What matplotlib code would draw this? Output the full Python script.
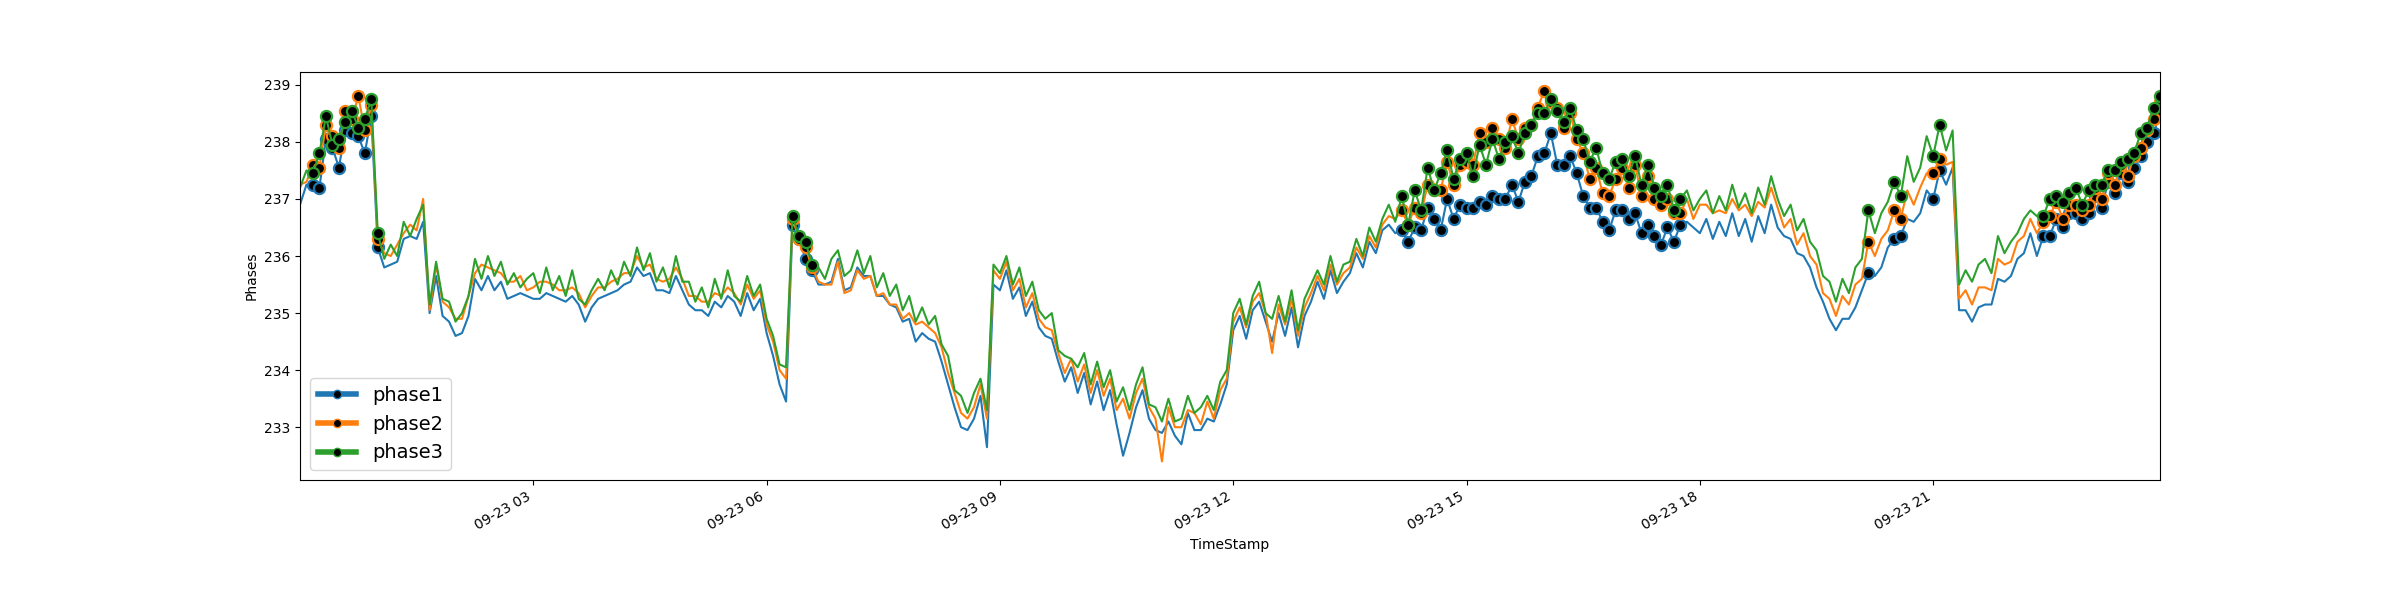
import numpy as np
import pandas as pd
import matplotlib
matplotlib.use("Agg")
import matplotlib.pyplot as plt
import matplotlib.dates as mdates
from matplotlib.lines import Line2D

# 5-minute samples, 2019-09-23 00:00 .. 23:55 (12 values per hour, one row per hour)
phase3 = [
    237.2, 237.5, 237.45, 237.8, 238.45, 237.95, 238.05, 238.35, 238.55, 238.25, 238.4, 238.75,
    236.4, 235.95, 236.2, 236.0, 236.6, 236.35, 236.65, 236.9, 235.15, 235.9, 235.25, 235.2,
    234.85, 235.0, 235.3, 235.95, 235.6, 236.0, 235.65, 235.9, 235.5, 235.7, 235.45, 235.6,
    235.7, 235.35, 235.8, 235.4, 235.65, 235.3, 235.75, 235.25, 235.15, 235.4, 235.6, 235.4,
    235.75, 235.5, 235.9, 235.65, 236.15, 235.75, 236.05, 235.55, 235.8, 235.45, 236.0, 235.55,
    235.55, 235.2, 235.45, 235.1, 235.6, 235.25, 235.75, 235.3, 235.2, 235.65, 235.3, 235.5,
    234.9, 234.6, 234.1, 234.05, 236.7, 236.35, 236.25, 235.85, 235.8, 235.6, 235.95, 236.1,
    235.65, 235.75, 236.1, 235.7, 236.0, 235.45, 235.7, 235.3, 235.5, 235.05, 235.3, 234.85,
    235.1, 234.8, 234.95, 234.45, 234.25, 233.65, 233.55, 233.25, 233.6, 233.85, 233.3, 235.85,
    235.7, 236.0, 235.5, 235.8, 235.3, 235.55, 235.05, 234.9, 235.0, 234.35, 234.25, 234.2,
    234.05, 234.3, 233.75, 234.15, 233.7, 234.0, 233.45, 233.7, 233.3, 233.75, 234.05, 233.4,
    233.35, 233.1, 233.5, 233.1, 233.15, 233.55, 233.25, 233.35, 233.55, 233.3, 233.8, 234.0,
    235.0, 235.25, 234.8, 235.3, 235.55, 235.0, 234.9, 235.3, 234.85, 235.4, 234.7, 235.25,
    235.5, 235.75, 235.5, 236.0, 235.55, 235.85, 235.9, 236.3, 236.0, 236.5, 236.25, 236.65,
    236.9, 236.6, 237.05, 236.55, 237.15, 236.8, 237.55, 237.15, 237.45, 237.85, 237.35, 237.7,
    237.8, 237.4, 237.95, 237.6, 238.05, 237.7, 238.0, 238.1, 237.8, 238.15, 238.3, 238.5,
    238.5, 238.75, 238.55, 238.35, 238.6, 238.2, 238.05, 237.65, 237.9, 237.45, 237.35, 237.65,
    237.7, 237.4, 237.75, 237.25, 237.6, 237.2, 237.05, 237.25, 236.8, 237.0, 237.15, 236.8,
    237.0, 237.15, 236.75, 237.05, 236.8, 237.25, 236.85, 237.1, 236.75, 237.2, 236.9, 237.4,
    237.0, 236.7, 236.9, 236.45, 236.65, 236.25, 236.1, 235.65, 235.55, 235.2, 235.6, 235.35,
    235.8, 235.95, 236.8, 236.4, 236.75, 236.95, 237.3, 237.05, 237.75, 237.3, 237.55, 238.1,
    237.75, 238.3, 237.85, 238.2, 235.5, 235.75, 235.55, 235.85, 235.95, 235.7, 236.35, 236.05,
    236.25, 236.4, 236.65, 236.8, 236.7, 236.7, 237.0, 237.05, 236.95, 237.1, 237.2, 236.9,
    237.15, 237.25, 237.25, 237.5, 237.5, 237.65, 237.7, 237.8, 238.15, 238.25, 238.6, 238.8,
]

phase2 = [
    237.25, 237.3, 237.6, 237.55, 238.3, 238.1, 237.9, 238.55, 238.4, 238.8, 238.2, 238.65,
    236.3, 236.05, 236.0, 236.2, 236.4, 236.55, 236.45, 237.0, 235.05, 235.85, 235.2, 235.1,
    234.9, 234.9, 235.3, 235.7, 235.85, 235.8, 235.75, 235.7, 235.55, 235.55, 235.65, 235.4,
    235.45, 235.55, 235.55, 235.5, 235.4, 235.4, 235.45, 235.35, 235.1, 235.3, 235.45, 235.45,
    235.55, 235.6, 235.7, 235.7, 236.0, 235.8, 235.85, 235.6, 235.55, 235.6, 235.8, 235.6,
    235.3, 235.3, 235.2, 235.2, 235.35, 235.3, 235.45, 235.35, 235.15, 235.5, 235.25, 235.4,
    234.8, 234.5, 234.0, 233.85, 236.65, 236.3, 236.15, 235.8, 235.55, 235.5, 235.5, 235.9,
    235.35, 235.4, 235.75, 235.6, 235.65, 235.3, 235.35, 235.15, 235.15, 234.9, 235.0, 234.8,
    234.85, 234.75, 234.65, 234.4, 233.95, 233.6, 233.25, 233.15, 233.35, 233.75, 233.15, 235.75,
    235.6, 235.9, 235.4, 235.6, 235.1, 235.35, 234.9, 234.75, 234.7, 234.3, 233.95, 234.2,
    233.8, 234.1, 233.6, 234.0, 233.55, 233.85, 233.3, 233.5, 233.15, 233.6, 233.85, 233.35,
    233.15, 232.4, 233.35, 233.0, 233.0, 233.3, 233.25, 233.05, 233.45, 233.15, 233.65, 233.85,
    234.85, 235.1, 234.75, 235.2, 235.35, 235.0, 234.3, 235.15, 234.8, 235.25, 234.6, 235.1,
    235.35, 235.65, 235.4, 235.85, 235.5, 235.7, 235.8, 236.15, 235.95, 236.35, 236.15, 236.55,
    236.7, 236.65, 236.8, 236.55, 236.85, 236.75, 237.25, 237.15, 237.15, 237.65, 237.25, 237.6,
    237.65, 237.6, 238.15, 238.0, 238.25, 238.05, 237.9, 238.4, 238.05, 238.25, 238.3, 238.6,
    238.9, 238.7, 238.6, 238.25, 238.5, 238.05, 237.8, 237.35, 237.55, 237.1, 237.05, 237.35,
    237.55, 237.2, 237.6, 237.05, 237.4, 237.0, 236.9, 237.0, 236.75, 236.75, 237.0, 236.65,
    236.9, 236.9, 236.75, 236.8, 236.75, 237.0, 236.8, 236.9, 236.7, 236.95, 236.85, 237.2,
    236.85, 236.5, 236.65, 236.2, 236.4, 236.0, 235.85, 235.35, 235.25, 234.95, 235.3, 235.15,
    235.5, 235.6, 236.25, 236.0, 236.3, 236.45, 236.8, 236.65, 237.15, 236.9, 237.2, 237.45,
    237.45, 237.7, 237.6, 237.65, 235.25, 235.4, 235.15, 235.45, 235.45, 235.4, 235.95, 235.85,
    235.9, 236.25, 236.35, 236.65, 236.4, 236.6, 236.7, 236.95, 236.65, 236.9, 236.9, 236.8,
    236.9, 237.2, 237.0, 237.45, 237.25, 237.6, 237.4, 237.75, 237.9, 238.2, 238.4, 238.7,
]

phase1 = [
    236.9, 237.25, 237.25, 237.2, 238.05, 237.9, 237.55, 238.2, 238.15, 238.1, 237.8, 238.45,
    236.15, 235.8, 235.85, 235.9, 236.3, 236.35, 236.3, 236.6, 235.0, 235.65, 234.95, 234.85,
    234.6, 234.65, 234.95, 235.6, 235.4, 235.65, 235.4, 235.55, 235.25, 235.3, 235.35, 235.3,
    235.25, 235.25, 235.35, 235.3, 235.25, 235.2, 235.3, 235.15, 234.85, 235.1, 235.25, 235.3,
    235.35, 235.4, 235.5, 235.55, 235.8, 235.65, 235.7, 235.4, 235.4, 235.35, 235.65, 235.4,
    235.15, 235.05, 235.05, 234.95, 235.2, 235.1, 235.3, 235.2, 234.95, 235.35, 235.05, 235.25,
    234.65, 234.25, 233.75, 233.45, 236.55, 236.3, 235.95, 235.75, 235.5, 235.5, 235.55, 235.95,
    235.4, 235.45, 235.8, 235.65, 235.65, 235.3, 235.3, 235.15, 235.1, 234.85, 234.9, 234.5,
    234.65, 234.55, 234.5, 234.15, 233.75, 233.35, 233.0, 232.95, 233.15, 233.55, 232.65, 235.5,
    235.4, 235.75, 235.25, 235.45, 234.95, 235.2, 234.75, 234.6, 234.55, 234.15, 233.8, 234.05,
    233.6, 233.95, 233.4, 233.8, 233.3, 233.65, 233.05, 232.5, 232.9, 233.35, 233.65, 233.15,
    232.95, 232.9, 233.1, 232.85, 232.7, 233.25, 232.95, 232.95, 233.15, 233.1, 233.4, 233.75,
    234.7, 234.95, 234.55, 235.05, 235.2, 234.85, 234.5, 235.0, 234.6, 235.1, 234.4, 234.95,
    235.2, 235.55, 235.25, 235.75, 235.35, 235.55, 235.7, 236.05, 235.8, 236.25, 236.05, 236.45,
    236.55, 236.4, 236.45, 236.25, 236.5, 236.45, 236.85, 236.65, 236.45, 237.0, 236.65, 236.9,
    236.85, 236.85, 236.95, 236.9, 237.05, 237.0, 237.0, 237.25, 236.95, 237.3, 237.4, 237.75,
    237.8, 238.15, 237.6, 237.6, 237.75, 237.45, 237.05, 236.85, 236.85, 236.6, 236.45, 236.8,
    236.8, 236.65, 236.75, 236.4, 236.55, 236.35, 236.2, 236.5, 236.25, 236.55, 236.6, 236.5,
    236.4, 236.65, 236.3, 236.6, 236.35, 236.75, 236.35, 236.65, 236.25, 236.7, 236.4, 236.9,
    236.5, 236.35, 236.3, 236.05, 236.0, 235.8, 235.45, 235.2, 234.9, 234.7, 234.9, 234.9,
    235.1, 235.4, 235.7, 235.65, 235.8, 236.15, 236.3, 236.35, 236.65, 236.6, 236.75, 237.15,
    237.0, 237.5, 237.25, 237.55, 235.05, 235.05, 234.85, 235.1, 235.15, 235.15, 235.6, 235.55,
    235.65, 235.95, 236.05, 236.4, 236.0, 236.35, 236.35, 236.65, 236.5, 236.75, 236.75, 236.65,
    236.75, 237.05, 236.85, 237.3, 237.1, 237.45, 237.3, 237.55, 237.75, 238.0, 238.15, 238.5,
]

series_names = ["phase1", "phase2", "phase3"]
series_colors = ["#1f77b4", "#ff7f0e", "#2ca02c"]
# hour windows in which points were flagged (drawn with markers)
flag_windows = [(0.1, 1.0), (6.3, 6.6), (14.1, 17.8), (20.15, 20.2), (20.5, 20.6), (21.0, 21.1), (22.4, 24.0)]

times = pd.date_range("2019-09-23 00:00", periods=len(phase1), freq="5min")
hours = (times - times[0]).total_seconds() / 3600.0
flag = np.zeros(len(times), dtype=bool)
for a, b in flag_windows:
    flag |= (hours >= a) & (hours <= b)

fig, ax = plt.subplots(figsize=(24, 6), dpi=100)
for name, vals, col in zip(series_names, [phase1, phase2, phase3], series_colors):
    v = np.asarray(vals)
    ax.plot(times, v, color=col, lw=1.5)
    ax.plot(times[flag], v[flag], linestyle="none", marker="o", markersize=8,
            markerfacecolor="black", markeredgecolor=col, markeredgewidth=1.6)

ax.set_xlim(times[0], times[-1])
ax.xaxis.set_major_locator(mdates.HourLocator(byhour=[3, 6, 9, 12, 15, 18, 21]))
ax.xaxis.set_major_formatter(mdates.DateFormatter("%m-%d %H"))
ax.set_xlabel("TimeStamp")
ax.set_ylabel("Phases")
fig.autofmt_xdate()

handles = [Line2D([0], [0], color=c, lw=4, marker="o", markersize=6,
                  markerfacecolor="black", markeredgecolor=c) for c in series_colors]
ax.legend(handles, series_names, loc="lower left", fontsize=14)

fig.savefig("out.png", dpi=100)
